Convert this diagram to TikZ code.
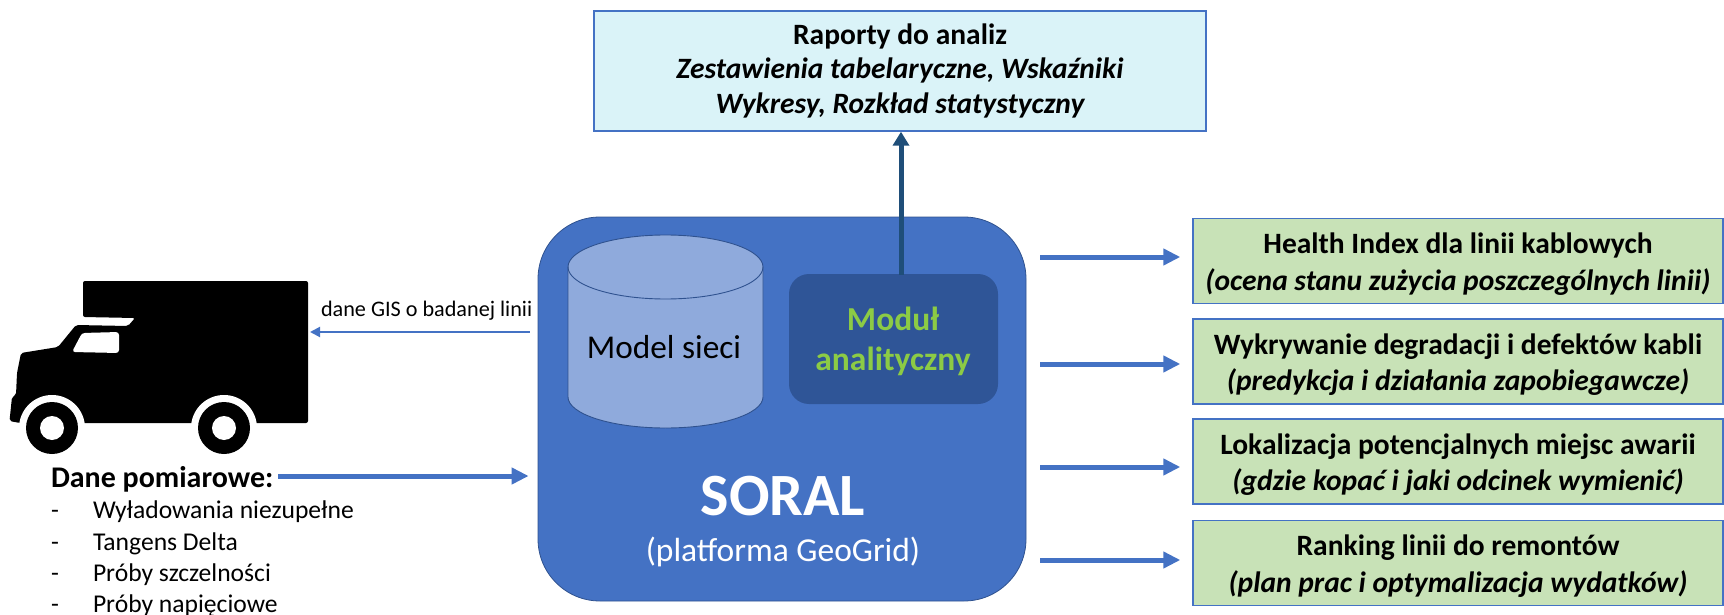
\documentclass[tikz,border=0pt]{standalone}
\usepackage{fontspec}
\setmainfont{Carlito}
\usetikzlibrary{arrows.meta,calc}
\definecolor{soralblue}{HTML}{4472C4}
\definecolor{soraledge}{HTML}{2F528F}
\definecolor{cylblue}{HTML}{8FAADC}
\definecolor{moddark}{HTML}{2F5597}
\definecolor{modgreen}{HTML}{8CCB45}
\definecolor{topfill}{HTML}{DAF3F8}
\definecolor{greenfill}{HTML}{C8E2B7}
\definecolor{uparrow}{HTML}{1F4E79}
\newcommand{\fs}[2]{\fontsize{#1}{#2}\selectfont}
\newcommand{\dropline}{\rule{0pt}{27pt}}
\tikzset{
  x=1pt,y=-1pt,
  outbox/.style={draw=soralblue,line width=1.4pt,fill=greenfill,minimum width=530pt,minimum height=85pt,inner sep=0pt,align=center,font=\fs{29.5}{36.5}\bfseries,text=black},
  bigarrow/.style={draw=soralblue,line width=5pt,-{Triangle[width=16pt,length=17pt]}},
  thinarrow/.style={draw=soralblue,line width=2pt,-{Triangle[width=10pt,length=10pt]}},
  uparr/.style={draw=uparrow,line width=5pt,-{Triangle[width=16pt,length=14pt]}},
  plain/.style={inner sep=0pt,outer sep=0pt,text=black},
}
\begin{document}
\begin{tikzpicture}
\useasboundingbox (0,0) rectangle (1724,615);
% report box
\node[draw=soralblue,line width=1.4pt,fill=topfill,minimum width=612pt,minimum height=120pt,inner sep=0pt,align=center,font=\fs{29.5}{35.5}\bfseries] (report) at (900,71)
 {Raporty do analiz\\[-1.5pt] \itshape Zestawienia tabelaryczne, Wskaźniki\\ \itshape Wykresy, Rozkład statystyczny};
% SORAL
\node[draw=soraledge,line width=0.8pt,fill=soralblue,minimum width=488pt,minimum height=384pt,rounded corners=62pt,inner sep=0pt] (soral) at (782,409) {};
% cylinder
\draw[draw=soraledge,line width=0.9pt,fill=cylblue] (568,267) -- (568,397) arc[start angle=180,end angle=360,x radius=97.5,y radius=-31] -- (763,267) arc[start angle=0,end angle=180,x radius=97.5,y radius=-32] -- cycle;
\draw[draw=soraledge,line width=0.9pt] (568,267) arc[start angle=180,end angle=360,x radius=97.5,y radius=-32];
\node[plain,anchor=base,font=\fs{33.3}{33}] (model) at (664,358) {Model sieci};
% module
\node[fill=moddark,minimum width=209pt,minimum height=130pt,rounded corners=20pt,inner sep=0pt] (module) at (893.5,339) {};
\node[plain,anchor=base,text=modgreen,font=\fs{33.5}{33}\bfseries] (modtxt) at (893,330) {Moduł};
\node[plain,anchor=base,text=modgreen,font=\fs{33.5}{33}\bfseries] (antxt) at (893,370) {analityczny};
\node[plain,anchor=base,text=white,font=\fs{60}{60}\bfseries] (soraltxt) at (783,515) {SORAL};
\node[plain,anchor=base,text=white,font=\fs{33.5}{33}] (geo) at (783,561) {(platforma GeoGrid)};
% up arrow
\coordinate (upstart) at ($(report.south |- module.north)+(1,1)$);
\coordinate (upend) at ($(report.south)+(1,0)$);
\draw[uparr] (upstart) -- (upend);
% output boxes
\node[outbox] (o1) at (1458,261) {\dropline Health Index dla linii kablowych\\ \itshape (ocena stanu zużycia poszczególnych linii)};
\node[outbox] (o2) at (1458,361.5) {\dropline Wykrywanie degradacji i defektów kabli\\ \itshape (predykcja i działania zapobiegawcze)};
\node[outbox] (o3) at (1458,461.5) {\dropline Lokalizacja potencjalnych miejsc awarii\\ \itshape (gdzie kopać i jaki odcinek wymienić)};
\node[outbox] (o4) at (1458,563) {\dropline Ranking linii do remontów\\ \itshape (plan prac i optymalizacja wydatków)};
\foreach \n/\y in {o1/257,o2/364,o3/467,o4/560}{
  \coordinate (\n s) at ($(soral.east |- 0,\y)+(14,0)$);
  \coordinate (\n e) at ($(\n.west |- 0,\y)+(-12,0)$);
  \draw[bigarrow] (\n s) -- (\n e);
}
% truck
\begin{scope}
\fill[black,rounded corners=2pt] (83,281) -- (308,281) -- (308,423) -- (20,423) -- (9.5,421) -- (12,397) -- (16,395) -- (17,373) -- (21,353) -- (58,347) -- (76,325) -- (128,326) -- (135,318) -- (83,317) -- cycle;
\fill[white,rounded corners=3pt] (72,352) -- (82,333) -- (119,332) -- (119,353) -- cycle;
\end{scope}
\foreach \x in {52,224}{
  \fill[white] (\x,428) circle[radius=33];
  \fill[black] (\x,428) circle[radius=26];
  \fill[white] (\x,428) circle[radius=12];
}
\coordinate (truckside) at (310,332);
% GIS
\node[plain,anchor=base west,font=\fs{22.2}{22}] (gis) at (321,316) {dane GIS o badanej linii};
\coordinate (gisstart) at ($(soral.west |- truckside)+(-8,0)$);
\draw[thinarrow] (gisstart) -- (truckside);
% measurements
\node[plain,anchor=base west,font=\fs{30}{30}\bfseries] (dane) at (51,487) {Dane pomiarowe:};
\coordinate (danestart) at (278,476);
\coordinate (daneend) at ($(soral.west |- danestart)+(-9,0)$);
\draw[bigarrow] (danestart) -- (daneend);
\foreach \nm/\y/\t in {a/518/Wyładowania niezupełne,b/550/Tangens Delta,c/581/Próby szczelności,d/612/Próby napięciowe}{
  \node[plain,anchor=base west,font=\fs{25.6}{25}] (l\nm) at (51,\y) {-};
  \node[plain,anchor=base west,font=\fs{25.6}{25}] (t\nm) at (93,\y) {\t};
}
\end{tikzpicture}
\end{document}
